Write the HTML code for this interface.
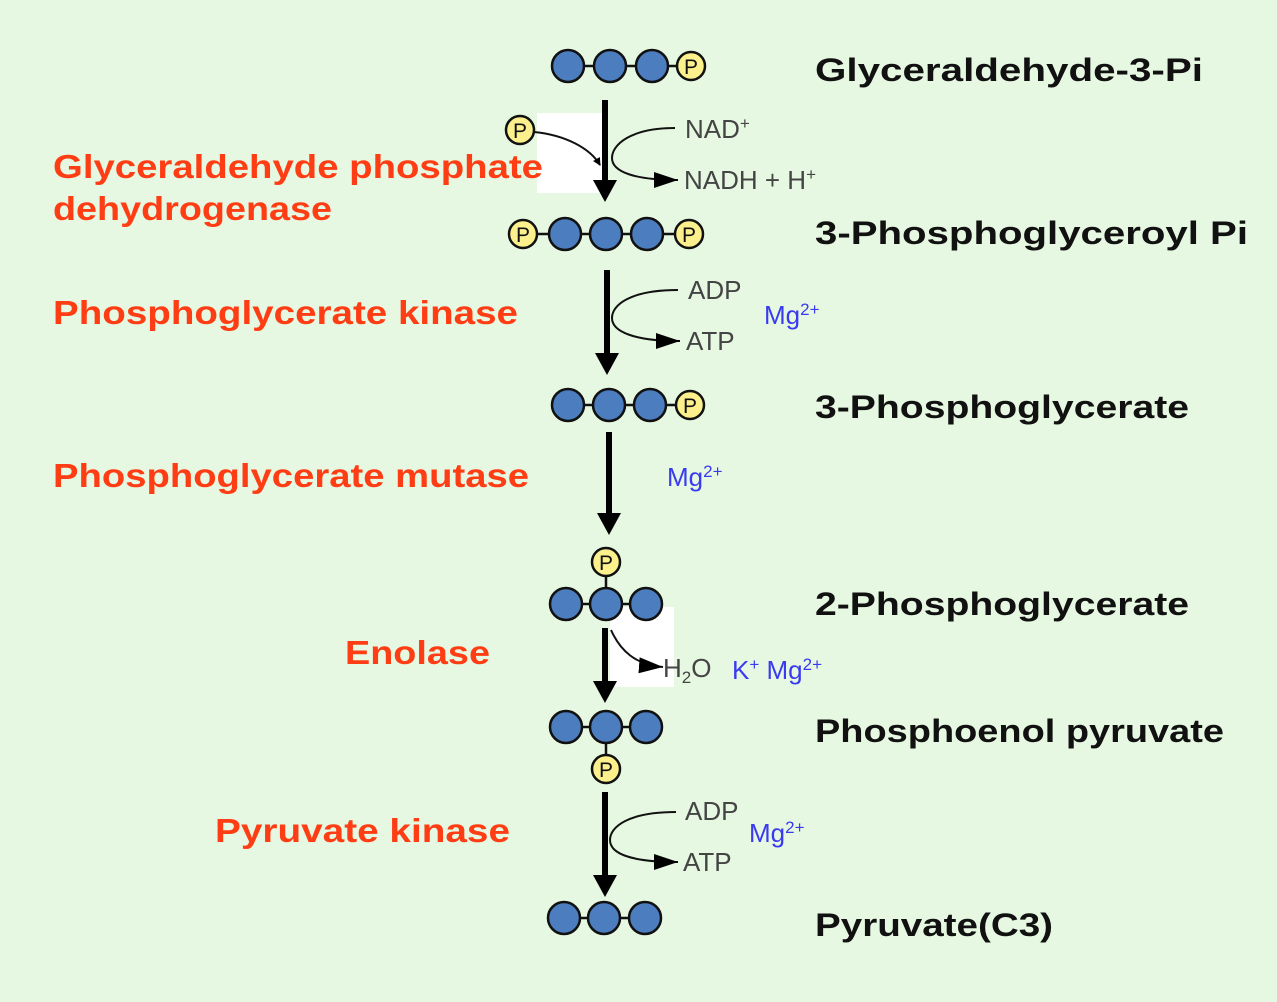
<!DOCTYPE html>
<html><head><meta charset="utf-8"><style>
body{margin:0;background:#e6f8e1;}
svg{display:block}
.k{font-family:"Liberation Sans",sans-serif;font-weight:bold;font-size:32px;fill:#111}
.r{font-family:"Liberation Sans",sans-serif;font-weight:bold;font-size:33px;fill:#ff3d14}
.g{font-family:"Liberation Sans",sans-serif;font-size:26px;fill:#444}
.b{font-family:"Liberation Sans",sans-serif;font-size:26px;fill:#3a3af0}
.c{fill:#4b7dbf;stroke:#111;stroke-width:2.5}
.p{fill:#fbf08c;stroke:#111;stroke-width:2.5}
.pt{font-family:"Liberation Sans",sans-serif;font-size:21px;fill:#111;text-anchor:middle}
</style></head><body>
<svg width="1277" height="1002" viewBox="0 0 1277 1002">
<defs>
<marker id="a" markerWidth="8" markerHeight="8" refX="7" refY="4" orient="auto" markerUnits="userSpaceOnUse"><path d="M0,0L8,4L0,8z" fill="#000"/></marker>
<marker id="h" viewBox="0 0 10 10" markerWidth="24" markerHeight="16" refX="10" refY="5" orient="auto" markerUnits="userSpaceOnUse" preserveAspectRatio="none"><path d="M0,0L10,5L0,10z" fill="#000"/></marker></defs>
<rect x="537" y="113" width="65" height="80" fill="#fff"/>
<rect x="610" y="607" width="64" height="80" fill="#fff"/>
<g stroke="#111" stroke-width="2.5">
<line x1="568" y1="66" x2="691" y2="66"/>
<line x1="523" y1="234" x2="689" y2="234"/>
<line x1="568" y1="405" x2="690" y2="405"/>
<line x1="566" y1="604" x2="646" y2="604"/><line x1="606" y1="562" x2="606" y2="604"/>
<line x1="566" y1="727" x2="646" y2="727"/><line x1="606" y1="727" x2="606" y2="769"/>
<line x1="564" y1="918" x2="645" y2="918"/>
</g>
<g>
<circle class="c" cx="568" cy="66" r="16"/><circle class="c" cx="610" cy="66" r="16"/><circle class="c" cx="652" cy="66" r="16"/><circle class="p" cx="691" cy="66" r="14"/><text class="pt" x="691" y="74">P</text>
<circle class="p" cx="520" cy="130" r="14"/><text class="pt" x="520" y="138">P</text>
<circle class="p" cx="523" cy="234" r="14"/><text class="pt" x="523" y="242">P</text><circle class="c" cx="565" cy="234" r="16"/><circle class="c" cx="606" cy="234" r="16"/><circle class="c" cx="647" cy="234" r="16"/><circle class="p" cx="689" cy="234" r="14"/><text class="pt" x="689" y="242">P</text>
<circle class="c" cx="568" cy="405" r="16"/><circle class="c" cx="609" cy="405" r="16"/><circle class="c" cx="650" cy="405" r="16"/><circle class="p" cx="690" cy="405" r="14"/><text class="pt" x="690" y="413">P</text>
<circle class="p" cx="606" cy="562" r="14"/><text class="pt" x="606" y="570">P</text>
<circle class="c" cx="566" cy="604" r="16"/><circle class="c" cx="606" cy="604" r="16"/><circle class="c" cx="646" cy="604" r="16"/>
<circle class="c" cx="566" cy="727" r="16"/><circle class="c" cx="606" cy="727" r="16"/><circle class="c" cx="646" cy="727" r="16"/>
<circle class="p" cx="606" cy="769" r="14"/><text class="pt" x="606" y="777">P</text>
<circle class="c" cx="564" cy="918" r="16"/><circle class="c" cx="604" cy="918" r="16"/><circle class="c" cx="645" cy="918" r="16"/>
</g>
<g stroke="#000" stroke-width="6" fill="none">
<line x1="605" y1="100" x2="605" y2="182"/><path d="M593,180h24l-12,22z" fill="#000" stroke="none"/>
<line x1="607" y1="270" x2="607" y2="355"/><path d="M595,353h24l-12,22z" fill="#000" stroke="none"/>
<line x1="609" y1="432" x2="609" y2="515"/><path d="M597,513h24l-12,22z" fill="#000" stroke="none"/>
<line x1="605" y1="628" x2="605" y2="683"/><path d="M593,681h24l-12,22z" fill="#000" stroke="none"/>
<line x1="605" y1="792" x2="605" y2="877"/><path d="M593,875h24l-12,22z" fill="#000" stroke="none"/>
</g>
<g stroke="#111" stroke-width="2" fill="none">
<path d="M534,132C565,135 590,148 600,165" marker-end="url(#a)"/>
<path d="M675,128C630,128 612,145 612,158C612,172 635,180 678,180" marker-end="url(#h)"/>
<path d="M678,290C630,290 612,305 612,318C612,332 635,341 680,341" marker-end="url(#h)"/>
<path d="M611,630C620,650 635,665 663,667" marker-end="url(#h)"/>
<path d="M676,812C628,812 610,827 610,840C610,854 632,862 678,862" marker-end="url(#h)"/>
</g>
<text class="g" x="685" y="138">NAD<tspan font-size="17" dy="-9">+</tspan></text>
<text class="g" x="684" y="189">NADH + H<tspan font-size="17" dy="-9">+</tspan></text>
<text class="g" x="688" y="299">ADP</text>
<text class="g" x="686" y="350">ATP</text>
<text class="b" x="764" y="324">Mg<tspan font-size="17" dy="-9">2+</tspan></text>
<text class="b" x="667" y="486">Mg<tspan font-size="17" dy="-9">2+</tspan></text>
<text class="g" x="663" y="677">H<tspan font-size="17" dy="6">2</tspan><tspan dy="-6">O</tspan></text>
<text class="b" x="732" y="679">K<tspan font-size="17" dy="-9">+</tspan><tspan dy="9"> Mg</tspan><tspan font-size="17" dy="-9">2+</tspan></text>
<text class="g" x="685" y="820">ADP</text>
<text class="g" x="683" y="871">ATP</text>
<text class="b" x="749" y="842">Mg<tspan font-size="17" dy="-9">2+</tspan></text>
<text class="k" x="815" y="81" textLength="388" lengthAdjust="spacingAndGlyphs">Glyceraldehyde-3-Pi</text>
<text class="k" x="815" y="244" textLength="433" lengthAdjust="spacingAndGlyphs">3-Phosphoglyceroyl  Pi</text>
<text class="k" x="815" y="418" textLength="374" lengthAdjust="spacingAndGlyphs">3-Phosphoglycerate</text>
<text class="k" x="815" y="615" textLength="374" lengthAdjust="spacingAndGlyphs">2-Phosphoglycerate</text>
<text class="k" x="815" y="742" textLength="409" lengthAdjust="spacingAndGlyphs">Phosphoenol pyruvate</text>
<text class="k" x="815" y="936" textLength="238" lengthAdjust="spacingAndGlyphs">Pyruvate(C3)</text>
<text class="r" x="53" y="178" textLength="490" lengthAdjust="spacingAndGlyphs">Glyceraldehyde phosphate</text>
<text class="r" x="53" y="220" textLength="279" lengthAdjust="spacingAndGlyphs">dehydrogenase</text>
<text class="r" x="53" y="324" textLength="465" lengthAdjust="spacingAndGlyphs">Phosphoglycerate kinase</text>
<text class="r" x="53" y="487" textLength="476" lengthAdjust="spacingAndGlyphs">Phosphoglycerate mutase</text>
<text class="r" x="345" y="664" textLength="145" lengthAdjust="spacingAndGlyphs">Enolase</text>
<text class="r" x="215" y="842" textLength="295" lengthAdjust="spacingAndGlyphs">Pyruvate kinase</text>
</svg>
</body></html>
